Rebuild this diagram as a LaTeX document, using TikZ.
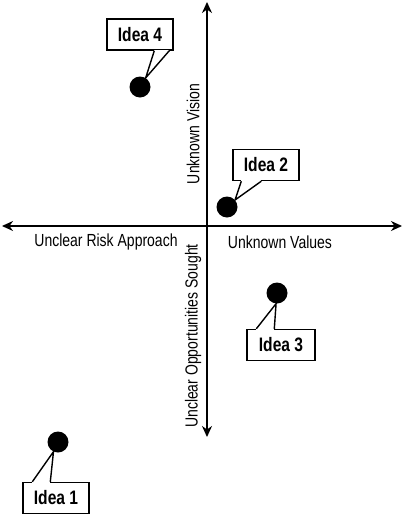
\documentclass[tikz,border=0pt]{standalone}
\usepackage{fontspec}
\setmainfont{Liberation Sans}[FakeStretch=0.8]
\usetikzlibrary{arrows.meta}

\begin{document}
\begin{tikzpicture}[x=1pt, y=-1pt]
\tikzset{axe/.style={line width=1.4pt, {Stealth[length=11pt,width=10pt,inset=3.5pt]}-{Stealth[length=11pt,width=10pt,inset=3.5pt]}}}
\tikzset{bulle/.style={draw, fill=white, line width=1.4pt, minimum width=66pt, minimum height=31pt, inner sep=0pt, font=\fontsize{19.5}{21}\selectfont\bfseries}}
\tikzset{pastille/.style={circle, fill=black, minimum size=21pt, inner sep=0pt}}
\tikzset{etiq/.style={font=\fontsize{17.5}{20}\selectfont, inner sep=0pt}}
\tikzset{pointe/.style={line width=1.4pt, line join=miter}}
\useasboundingbox (0,0) rectangle (404,517);
% axes
\coordinate (G) at (2,226);
\coordinate (D) at (402,226);
\coordinate (H) at (207,2);
\coordinate (B) at (207,437);
\draw[axe] (G) -- (D);
\draw[axe] (H) -- (B);
\node[etiq] (L1) at (106,242) {Unclear Risk Approach};
\node[etiq] (L2) at (280,242) {Unknown Values};
\node[etiq, rotate=90] (L3) at (193,134) {Unknown Vision};
\node[etiq, rotate=90] (L4) at (193,336) {Unclear Opportunities Sought};
% ideas
\node[pastille] (I4) at (140,87) {};
\node[pastille] (I2) at (227,207) {};
\node[pastille] (I3) at (277,293) {};
\node[pastille] (I1) at (58,442) {};
\node[bulle] (B4) at (140,34.5) {Idea 4};
\node[bulle] (B2) at (266,165) {Idea 2};
\node[bulle, minimum width=68pt] (B3) at (281,345) {Idea 3};
\node[bulle] (B1) at (56,498) {Idea 1};
% pointers
\fill[white] ([xshift=48pt, yshift=-1pt]B4.south west) rectangle ([xshift=63pt, yshift=1pt]B4.south west);
\draw[pointe] ([xshift=48pt]B4.south west) -- (I4.58) -- ([xshift=63pt]B4.south west);
\fill[white] ([xshift=9pt, yshift=-1pt]B2.south west) rectangle ([xshift=29pt, yshift=1pt]B2.south west);
\draw[pointe] ([xshift=9pt]B2.south west) -- (I2.41) -- ([xshift=29pt]B2.south west);
\fill[white] ([xshift=10pt, yshift=-1pt]B3.north west) rectangle ([xshift=28pt, yshift=1pt]B3.north west);
\draw[pointe] ([xshift=10pt]B3.north west) -- (I3.-95) -- ([xshift=28pt]B3.north west);
\fill[white] ([xshift=10pt, yshift=-1pt]B1.north west) rectangle ([xshift=28pt, yshift=1pt]B1.north west);
\draw[pointe] ([xshift=10pt]B1.north west) -- (I1.-115) -- ([xshift=28pt]B1.north west);
\end{tikzpicture}
\end{document}
